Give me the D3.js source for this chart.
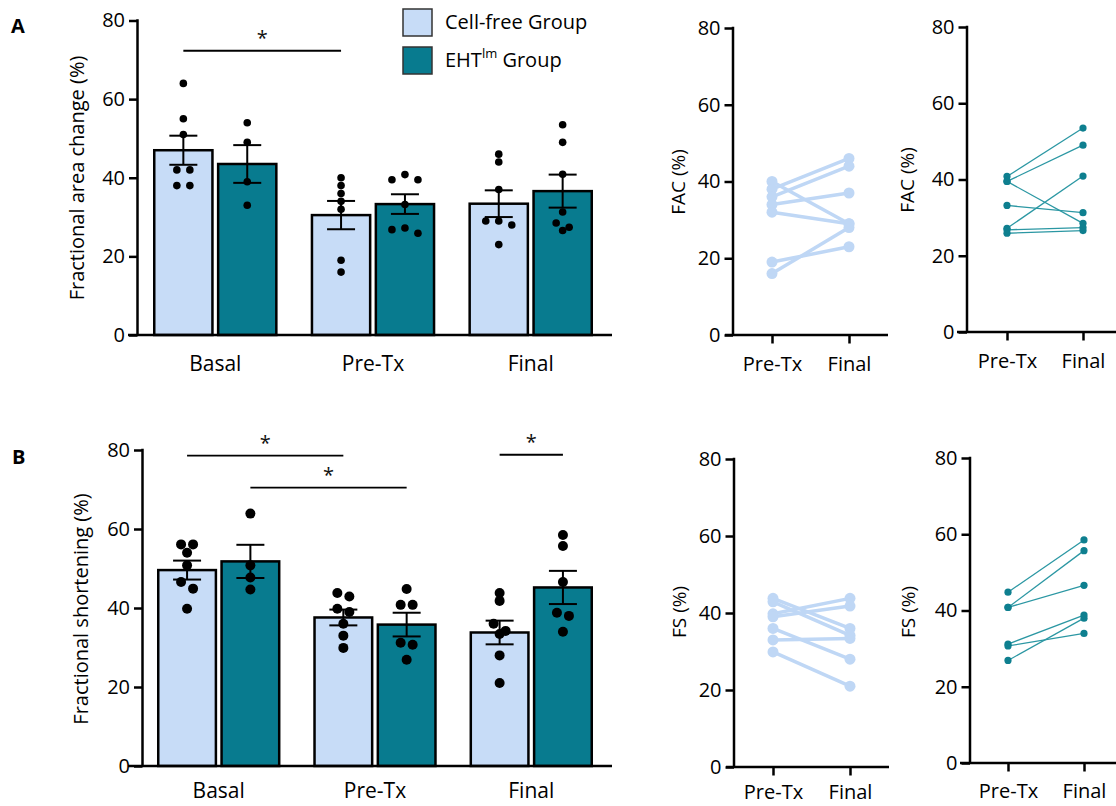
<!DOCTYPE html>
<html>
<head>
<meta charset="utf-8">
<script src="https://cdn.jsdelivr.net/npm/d3@7"></script>
<style>
  html, body { margin: 0; padding: 0; background: #ffffff; }
  svg { display: block; }
</style>
</head>
<body>
<script>
// ---------------- DATA ----------------
const categories = ["Basal", "Pre-Tx", "Final"];
const groups = ["Cell-free Group", "EHT Group"];
const yTicks = [0, 20, 40, 60, 80];
const pairedCats = ["Pre-Tx", "Final"];

// Fractional area change (FAC) – bar means and SEM (Basal, Pre-Tx, Final)
const facMeanCellFree = [47.0, 30.5, 33.4];
const facSemCellFree  = [3.7, 3.6, 3.4];
const facMeanEHT      = [43.5, 33.3, 36.6];
const facSemEHT       = [4.8, 2.5, 4.2];
// FAC individual values
const facBasalCellFree = [64, 55, 51, 42, 42, 38, 38];
const facBasalEHT      = [54, 49, 39, 33];
const facPreCellFree   = [40, 38, 36, 34, 32, 19, 16];
const facFinalCellFree = [29, 46, 44, 37, 29, 23, 28];
const facPreEHT        = [40.8, 39.5, 39.5, 33.2, 27.2, 26.8, 25.9];
const facFinalEHT      = [53.5, 49.0, 28.5, 31.3, 40.9, 27.4, 26.6];

// Fractional shortening (FS) – bar means and SEM
const fsMeanCellFree = [49.6, 37.6, 33.8];
const fsSemCellFree  = [2.4, 2.0, 3.0];
const fsMeanEHT      = [51.8, 35.8, 45.2];
const fsSemEHT       = [4.2, 3.0, 4.2];
// FS individual values
const fsBasalCellFree = [56.1, 56.1, 54.0, 50.8, 46.6, 44.9, 39.8];
const fsBasalEHT      = [63.9, 50.8, 47.7, 44.7];
const fsPreCellFree   = [43.8, 42.9, 39.8, 39.0, 36.0, 33.0, 29.9];
const fsFinalCellFree = [36.0, 34.2, 43.8, 41.8, 28.0, 33.4, 21.0];
const fsPreEHT        = [44.8, 40.8, 40.8, 31.2, 30.7, 26.9];
const fsFinalEHT      = [58.5, 55.7, 46.6, 38.8, 34.0, 38.0];

// significance brackets: [category, group index] to [category, group index], height (%)
const facSig = [
  { from: ["Basal", 0], to: ["Pre-Tx", 0], level: 72.3 }
];
const fsSig = [
  { from: ["Basal", 0], to: ["Pre-Tx", 0], level: 78.6 },
  { from: ["Basal", 1], to: ["Pre-Tx", 1], level: 70.5 },
  { from: ["Final", 0], to: ["Final", 1], level: 78.8 }
];

// ---------------- STYLE ----------------
const LIGHT = "#c7dcf7";
const DARK = "#087b8f";
const PAIR_LIGHT = "#bfd7f5";
const PAIR_TEAL_LINE = "#2b97a3";
const PAIR_TEAL_DOT = "#0e7f8f";
const FONT = "'Open Sans', 'Noto Sans', sans-serif";

const W = 1116, H = 806;
const svg = d3.select("body").append("svg")
  .attr("width", W).attr("height", H)
  .style("font-family", FONT);
svg.append("rect").attr("width", W).attr("height", H).attr("fill", "#fff");

function swarmOffsets(vals, y, r, d) {
  const idx = vals.map((v, i) => i).sort((a, b) => vals[b] - vals[a]);
  const off = new Array(vals.length).fill(0);
  const thr = 1.5 * r;
  let k = 0;
  while (k < idx.length) {
    const top = y(vals[idx[k]]);
    const row = [idx[k]];
    let j = k + 1;
    while (j < idx.length && Math.abs(y(vals[idx[j]]) - top) < thr) { row.push(idx[j]); j++; }
    const n = row.length;
    let slots;
    if (n === 1) slots = [0];
    else if (n === 2) slots = [-d / 2, d / 2];
    else if (n === 3) slots = [0, -d, d];
    else slots = row.map((_, i) => (i - (n - 1) / 2) * d);
    row.forEach((id, i) => off[id] = slots[i]);
    k = j;
  }
  return off;
}

function styleAxis(g, fontSize) {
  g.selectAll("path.domain").remove();
  g.selectAll(".tick line").attr("stroke", "#000").attr("stroke-width", 2.5);
  g.selectAll(".tick text").attr("fill", "#000").style("font-size", fontSize + "px").style("font-family", FONT);
}

// ---------------- BAR PANEL ----------------
function barPanel(cfg) {
  const g = svg.append("g");
  const y = d3.scaleLinear().domain([0, 80]).range([cfg.y0, cfg.y80]);
  const x0 = d3.scaleBand().domain(categories).range(cfg.barRange).paddingInner(0.21);
  const x1 = d3.scaleBand().domain(groups).range([0, x0.bandwidth()]).paddingInner(0.05);
  const fills = [LIGHT, DARK];

  // y axis
  const ya = g.append("g").attr("transform", `translate(${cfg.axisX},0)`)
    .call(d3.axisLeft(y).tickValues(yTicks).tickSize(8.5).tickPadding(4).tickFormat(d3.format("d")));
  styleAxis(ya, 20);
  g.append("line").attr("x1", cfg.axisX).attr("x2", cfg.axisX)
    .attr("y1", cfg.y80 - 1.2).attr("y2", cfg.y0)
    .attr("stroke", "#000").attr("stroke-width", 2.5);

  // bars
  const barData = [];
  categories.forEach((c, ci) => {
    groups.forEach((gr, gi) => {
      barData.push({ c, gi, mean: cfg.means[gi][ci], sem: cfg.sems[gi][ci], dots: cfg.dots[gi][ci] });
    });
  });
  const cx = d => x0(d.c) + x1(groups[d.gi]) + x1.bandwidth() / 2;

  g.selectAll("rect.bar").data(barData).enter().append("rect")
    .attr("class", "bar")
    .attr("x", d => x0(d.c) + x1(groups[d.gi]) + 1.25)
    .attr("width", x1.bandwidth() - 2.5)
    .attr("y", d => y(d.mean))
    .attr("height", d => y(0) - y(d.mean))
    .attr("fill", d => fills[d.gi])
    .attr("stroke", "#000").attr("stroke-width", 2.5);

  // error bars
  const eb = g.selectAll("g.eb").data(barData).enter().append("g");
  eb.append("line")
    .attr("x1", cx).attr("x2", cx)
    .attr("y1", d => y(d.mean + d.sem)).attr("y2", d => y(d.mean - d.sem))
    .attr("stroke", "#000").attr("stroke-width", 2);
  [1, -1].forEach(s => {
    eb.append("line")
      .attr("x1", d => cx(d) - 14).attr("x2", d => cx(d) + 14)
      .attr("y1", d => y(d.mean + s * d.sem)).attr("y2", d => y(d.mean + s * d.sem))
      .attr("stroke", "#000").attr("stroke-width", 2);
  });

  // dots
  barData.forEach(d => {
    const offs = swarmOffsets(d.dots, y, cfg.r, cfg.spacing);
    g.selectAll(null).data(d.dots).enter().append("circle")
      .attr("cx", (v, i) => cx(d) + offs[i])
      .attr("cy", v => y(v))
      .attr("r", cfg.r)
      .attr("fill", "#000");
  });

  // x axis line + labels
  g.append("line").attr("x1", cfg.xLine[0]).attr("x2", cfg.xLine[1])
    .attr("y1", cfg.y0).attr("y2", cfg.y0)
    .attr("stroke", "#000").attr("stroke-width", 2.5);
  const xa = g.append("g").attr("transform", `translate(0,${cfg.y0})`)
    .call(d3.axisBottom(x0).tickSize(0).tickPadding(cfg.labelPad));
  styleAxis(xa, 21);

  // significance
  cfg.sig.forEach(s => {
    const xa1 = x0(s.from[0]) + x1(groups[s.from[1]]) + x1.bandwidth() / 2;
    const xa2 = x0(s.to[0]) + x1(groups[s.to[1]]) + x1.bandwidth() / 2;
    g.append("line").attr("x1", xa1).attr("x2", xa2)
      .attr("y1", y(s.level)).attr("y2", y(s.level))
      .attr("stroke", "#000").attr("stroke-width", 1.8);
    g.append("text").attr("x", (xa1 + xa2) / 2).attr("y", y(s.level) - 6)
      .attr("text-anchor", "middle").style("font-size", "20px").attr("fill", "#111")
      .text("*");
  });

  // y title
  g.append("text")
    .attr("transform", `translate(${cfg.titleX},${cfg.titleY}) rotate(-90)`)
    .attr("text-anchor", "middle").attr("dominant-baseline", "central")
    .style("font-size", "20px").attr("fill", "#000")
    .text(cfg.title);

  // panel letter
  g.append("text").attr("x", cfg.letterX).attr("y", cfg.letterY)
    .style("font-size", "20px").style("font-weight", "bold").attr("fill", "#000")
    .text(cfg.letter);
}

// ---------------- PAIRED PANEL ----------------
function pairedPanel(cfg) {
  const g = svg.append("g");
  const y = d3.scaleLinear().domain([0, 80]).range([cfg.y0, cfg.y80]);
  const x = d3.scalePoint().domain(pairedCats).range(cfg.ticks);

  const ya = g.append("g").attr("transform", `translate(${cfg.axisX},0)`)
    .call(d3.axisLeft(y).tickValues(yTicks).tickSize(8.5).tickPadding(4).tickFormat(d3.format("d")));
  styleAxis(ya, 20);
  g.append("line").attr("x1", cfg.axisX).attr("x2", cfg.axisX)
    .attr("y1", cfg.y80 - 1.2).attr("y2", cfg.y0)
    .attr("stroke", "#000").attr("stroke-width", 2.5);

  g.append("line").attr("x1", cfg.xLine[0]).attr("x2", cfg.xLine[1])
    .attr("y1", cfg.y0).attr("y2", cfg.y0)
    .attr("stroke", "#000").attr("stroke-width", 2.5);
  const xa = g.append("g").attr("transform", `translate(0,${cfg.y0})`)
    .call(d3.axisBottom(x).tickSize(8.5).tickPadding(cfg.labelPad));
  styleAxis(xa, 20);

  const pairs = cfg.pre.map((p, i) => [p, cfg.fin[i]]);
  g.selectAll("line.pair").data(pairs).enter().append("line")
    .attr("x1", x("Pre-Tx")).attr("x2", x("Final"))
    .attr("y1", d => y(d[0])).attr("y2", d => y(d[1]))
    .attr("stroke", cfg.lineColor).attr("stroke-width", cfg.lineW);
  pairs.forEach(p => {
    pairedCats.forEach((c, ci) => {
      g.append("circle").attr("cx", x(c)).attr("cy", y(p[ci]))
        .attr("r", cfg.r).attr("fill", cfg.dotColor);
    });
  });

  g.append("text")
    .attr("transform", `translate(${cfg.titleX},${cfg.titleY}) rotate(-90)`)
    .attr("text-anchor", "middle").attr("dominant-baseline", "central")
    .style("font-size", "19px").attr("fill", "#000")
    .text(cfg.title);
}

// ---------------- DRAW ----------------
barPanel({
  y0: 335, y80: 20.5, axisX: 137.5, barRange: [153, 593], xLine: [128, 612], labelPad: 21.5,
  means: [facMeanCellFree, facMeanEHT], sems: [facSemCellFree, facSemEHT],
  dots: [[facBasalCellFree, facPreCellFree, facFinalCellFree], [facBasalEHT, facPreEHT, facFinalEHT]],
  r: 3.8, spacing: 13, sig: facSig,
  title: "Fractional area change (%)", titleX: 76, titleY: 178,
  letter: "A", letterX: 11, letterY: 33
});
barPanel({
  y0: 766, y80: 450, axisX: 142.5, barRange: [157, 593], xLine: [128, 612], labelPad: 17.5,
  means: [fsMeanCellFree, fsMeanEHT], sems: [fsSemCellFree, fsSemEHT],
  dots: [[fsBasalCellFree, fsPreCellFree, fsFinalCellFree], [fsBasalEHT, fsPreEHT, fsFinalEHT]],
  r: 5, spacing: 12, sig: fsSig,
  title: "Fractional shortening (%)", titleX: 80, titleY: 609,
  letter: "B", letterX: 12, letterY: 464
});

pairedPanel({ y0: 335, y80: 28, axisX: 733, ticks: [772, 849], xLine: [725, 888], labelPad: 13,
  pre: facPreCellFree, fin: facFinalCellFree, lineColor: PAIR_LIGHT, dotColor: PAIR_LIGHT,
  lineW: 3.5, r: 5.5, title: "FAC (%)", titleX: 678, titleY: 182 });
pairedPanel({ y0: 332, y80: 27, axisX: 967, ticks: [1007, 1083], xLine: [957, 1116], labelPad: 13,
  pre: facPreEHT, fin: facFinalEHT, lineColor: PAIR_TEAL_LINE, dotColor: PAIR_TEAL_DOT,
  lineW: 1.3, r: 3.6, title: "FAC (%)", titleX: 907, titleY: 180 });
pairedPanel({ y0: 767, y80: 459, axisX: 734, ticks: [773, 850], xLine: [726, 889], labelPad: 9,
  pre: fsPreCellFree, fin: fsFinalCellFree, lineColor: PAIR_LIGHT, dotColor: PAIR_LIGHT,
  lineW: 3.5, r: 5.5, title: "FS (%)", titleX: 679, titleY: 612 });
pairedPanel({ y0: 763, y80: 458, axisX: 970, ticks: [1008, 1084], xLine: [960, 1116], labelPad: 12,
  pre: fsPreEHT, fin: fsFinalEHT, lineColor: PAIR_TEAL_LINE, dotColor: PAIR_TEAL_DOT,
  lineW: 1.3, r: 3.6, title: "FS (%)", titleX: 908, titleY: 612 });

// ---------------- LEGEND ----------------
const leg = svg.append("g");
const legendRows = [
  { fill: LIGHT, y: 9 },
  { fill: DARK, y: 47 }
];
leg.selectAll("rect").data(legendRows).enter().append("rect")
  .attr("x", 403).attr("y", d => d.y).attr("width", 29).attr("height", 27)
  .attr("fill", d => d.fill).attr("stroke", "#333").attr("stroke-width", 1.5);
leg.append("text").attr("x", 445).attr("y", 28.5)
  .style("font-size", "20px").attr("fill", "#000").text(groups[0]);
const t2 = leg.append("text").attr("x", 445).attr("y", 67)
  .style("font-size", "20px").attr("fill", "#000");
t2.append("tspan").text("EHT");
t2.append("tspan").attr("dy", -9).style("font-size", "13px").text("lm");
t2.append("tspan").attr("dy", 9).text(" Group");
</script>
</body>
</html>
